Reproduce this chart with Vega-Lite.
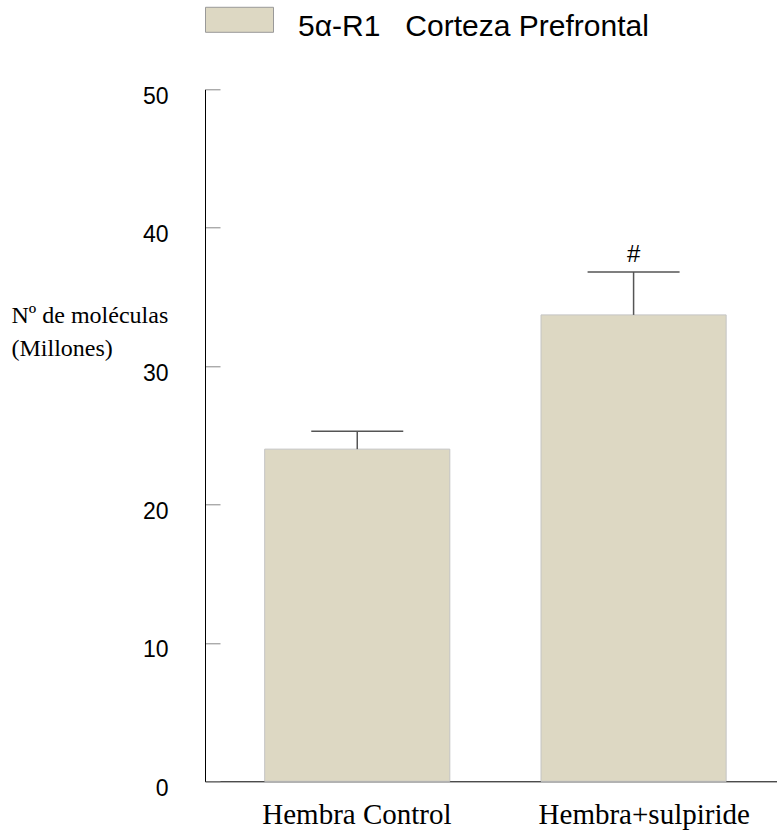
{
  "$schema": "https://vega.github.io/schema/vega-lite/v6.json",
  "autosize": "none",
  "width": 572,
  "height": 692,
  "padding": {"left": 205, "top": 89.3, "right": 0, "bottom": 48.7},
  "background": "white",
  "config": {"view": {"stroke": null}, "font": "Liberation Sans"},
  "data": {
    "values": [
      {"grupo": "Hembra Control", "media": 24.0, "sup": 25.3, "serie": "5α-R1\u00a0\u00a0\u00a0Corteza Prefrontal", "marca": ""},
      {"grupo": "Hembra+sulpiride", "media": 33.7, "sup": 36.8, "serie": "5α-R1\u00a0\u00a0\u00a0Corteza Prefrontal", "marca": "#"}
    ]
  },
  "encoding": {
    "x": {
      "field": "grupo",
      "type": "nominal",
      "sort": null,
      "scale": {"paddingInner": 0.33, "paddingOuter": 0.2, "align": 0.54},
      "axis": {
        "title": null,
        "domainColor": "black",
        "domainWidth": 1,
        "ticks": false,
        "labelFont": "Liberation Serif",
        "labelFontSize": 29,
        "labelColor": "black",
        "labelAngle": 0,
        "labelAlign": "left",
        "labelOffset": -95,
        "labelBaseline": "alphabetic",
        "labelPadding": 42,
        "labelLimit": 0
      }
    }
  },
  "layer": [
    {
      "mark": {"type": "bar", "stroke": "#c4c4c4", "strokeWidth": 1},
      "encoding": {
        "y": {
          "field": "media",
          "type": "quantitative",
          "scale": {"domain": [0, 50]},
          "axis": {
            "title": ["Nº de moléculas", "(Millones)"],
            "titleFont": "Liberation Serif",
            "titleFontSize": 24,
            "titleFontWeight": "normal",
            "titleColor": "black",
            "titleAngle": 0,
            "titleAlign": "left",
            "titleBaseline": "alphabetic",
            "titleX": -194,
            "titleY": 233,
            "titleLineHeight": 33,
            "values": [0, 10, 20, 30, 40, 50],
            "grid": false,
            "domainColor": "black",
            "domainWidth": 1,
            "tickColor": "#888888",
            "tickSize": -15,
            "tickWidth": 1,
            "labelFont": "Liberation Sans",
            "labelFontSize": 23,
            "labelColor": "black",
            "labelPadding": 52,
            "labelOffset": 7
          }
        },
        "color": {
          "field": "serie",
          "type": "nominal",
          "title": null,
          "scale": {"range": ["#ddd8c3"]},
          "legend": {
            "orient": "none",
            "legendX": 0,
            "legendY": -104,
            "padding": 0,
            "symbolType": "M-1,-0.368H1V0.368H-1Z",
            "symbolSize": 4624,
            "symbolStrokeColor": "#999999",
            "symbolStrokeWidth": 1,
            "symbolOpacity": 1,
            "labelFont": "Liberation Sans",
            "labelFontSize": 30,
            "labelColor": "black",
            "labelOffset": 24,
            "labelLimit": 600,
            "encode": {"labels": {"update": {"dy": {"value": 7}}}}
          }
        }
      }
    },
    {
      "mark": {"type": "rule", "color": "#555555", "strokeWidth": 1.5},
      "encoding": {
        "y": {"field": "media", "type": "quantitative"},
        "y2": {"field": "sup"}
      }
    },
    {
      "mark": {"type": "tick", "orient": "horizontal", "size": 92, "thickness": 1.5, "color": "#555555", "opacity": 1},
      "encoding": {
        "y": {"field": "sup", "type": "quantitative"}
      }
    },
    {
      "mark": {"type": "text", "font": "Liberation Sans", "fontSize": 24, "baseline": "alphabetic", "dy": -10, "color": "black"},
      "encoding": {
        "y": {"field": "sup", "type": "quantitative"},
        "text": {"field": "marca"}
      }
    }
  ]
}
